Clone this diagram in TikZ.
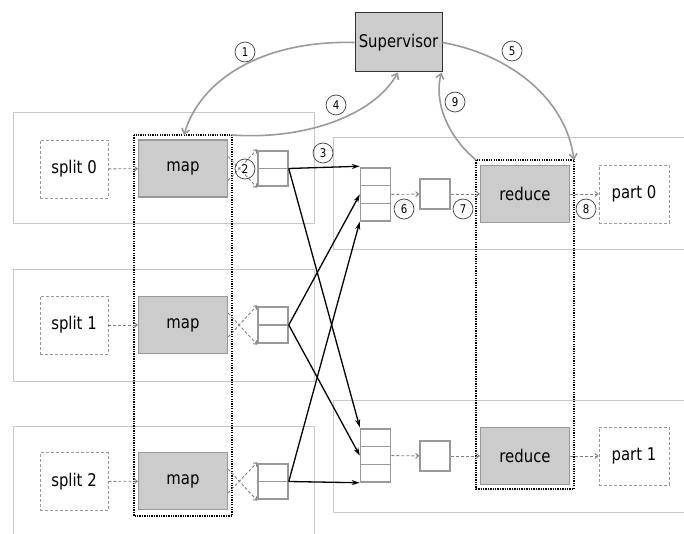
\documentclass[tikz,border=0pt]{standalone}
\usepackage{fontspec}
\setmainfont{DejaVu Sans}[FakeStretch=0.85]
\usetikzlibrary{arrows.meta,calc}
\definecolor{contgray}{HTML}{C8C8C8}
\definecolor{boxgray}{HTML}{999999}
\definecolor{fillgray}{HTML}{CCCCCC}
\definecolor{curvegray}{HTML}{9A9A9A}
\definecolor{dashgray}{HTML}{808080}
\tikzset{
  cont/.style={draw=contgray, line width=1pt},
  graybox/.style={draw=boxgray, fill=fillgray, line width=1.2pt, minimum width=89pt, minimum height=57pt, inner sep=0pt, font=\fontsize{17.5}{20}\selectfont},
  dbox/.style={draw=boxgray, dash pattern=on 3pt off 2pt, line width=0.9pt, minimum width=68pt, minimum height=58pt, inner sep=0pt, font=\fontsize{17.5}{20}\selectfont},
  supbox/.style={draw=black!80, fill=fillgray, line width=1pt, minimum width=87pt, minimum height=59pt, inner sep=0pt, font=\fontsize{17.5}{20}\selectfont},
  buf/.style={draw=boxgray, line width=1.5pt, minimum width=30pt, inner sep=0pt},
  smallbox/.style={draw=boxgray, line width=1.5pt, minimum width=30pt, minimum height=30pt, inner sep=0pt},
  dotbox/.style={draw=black, line width=1.3pt, dash pattern=on 1.3pt off 1.1pt},
  lbl/.style={circle, draw=black!75, line width=0.7pt, minimum size=20pt, inner sep=0pt, font=\fontsize{12}{13}\selectfont},
  darr/.style={draw=dashgray, dash pattern=on 3pt off 2pt, line width=0.9pt, -{Straight Barb[length=3pt,width=5pt]}},
  garr/.style={draw=curvegray, line width=1.6pt, -{Straight Barb[length=5pt,width=8pt]}},
  barr/.style={draw=black, line width=1.3pt, -{Stealth[length=8pt,width=5pt]}}
}
\begin{document}
\begin{tikzpicture}[x=1pt,y=-1pt]
\useasboundingbox (0,0) rectangle (684,534);
\clip (0,0) rectangle (684,534);
% background containers
\draw[cont] (13,113) rectangle (314,224);
\draw[cont] (13,269) rectangle (314,381);
\draw[cont] (13,426) -- (314,426) -- (314,540);
\draw[cont] (13,426) -- (13,540);
\draw[cont] (690,138) -- (333,138) -- (333,250) -- (690,250);
\draw[cont] (690,400) -- (333,400) -- (333,512) -- (690,512);
% dotted groups
\draw[dotbox] (134,135) rectangle (232,516);
\draw[dotbox] (476,160) rectangle (574,489);
% supervisor
\node[supbox] (sup) at (398.5,42.5) {Supervisor};
% splits and maps
\node[dbox] (s0) at (74,169) {split 0};
\node[dbox] (s1) at (74,325) {split 1};
\node[dbox] (s2) at (74,481.5) {split 2};
\node[graybox] (m0) at (183,168.5) {map};
\node[graybox] (m1) at (183,325) {map};
\node[graybox] (m2) at (183,481) {map};
% map buffers
\node[buf, minimum height=35pt] (b0) at (273,168.5) {};
\node[buf, minimum height=36pt] (b1) at (273,325) {};
\node[buf, minimum height=35pt] (b2) at (273,481.5) {};
\foreach \b in {b0,b1,b2} \draw[boxgray, line width=1.5pt] (\b.west) -- (\b.east);
% reducer input buffers
\node[buf, minimum height=53pt] (r0) at (375.5,194.5) {};
\node[buf, minimum height=53pt] (r1) at (375.5,455.5) {};
\foreach \r in {r0,r1} {
  \draw[boxgray, line width=1.5pt] ($(\r.north west)!1/3!(\r.south west)$) -- ($(\r.north east)!1/3!(\r.south east)$);
  \draw[boxgray, line width=1.5pt] ($(\r.north west)!2/3!(\r.south west)$) -- ($(\r.north east)!2/3!(\r.south east)$);
}
\node[smallbox] (k0) at (435,194) {};
\node[smallbox] (k1) at (435,456) {};
\node[graybox] (red0) at (525,194) {reduce};
\node[graybox] (red1) at (525,456) {reduce};
\node[dbox, minimum width=70pt] (p0) at (634,194) {part 0};
\node[dbox, minimum width=70pt] (p1) at (634,456) {part 1};
% dashed arrows
\draw[darr] (s0) -- (m0);
\draw[darr] (s1) -- (m1);
\draw[darr] (s2) -- (m2);
\foreach \m/\b in {m0/b0,m1/b1,m2/b2} {
  \draw[darr] ([yshift=-12pt]\m.east) -- ([yshift=1pt]\b.north west);
  \draw[darr] ([yshift=12pt]\m.east) -- ([yshift=-1pt]\b.south west);
}
\draw[darr] (r0) -- (k0);
\draw[darr] (k0) -- (red0);
\draw[darr] (red0) -- (p0);
\draw[darr] (r1) -- (k1);
\draw[darr] (k1) -- (red1);
\draw[darr] (red1) -- (p1);
% shuffle arrows
\draw[barr] (b0.east) -- ([yshift=1pt]r0.north west);
\draw[barr] (b0.east) -- ([yshift=1pt]r1.north west);
\draw[barr] (b1.east) -- (r0.west);
\draw[barr] (b1.east) -- (r1.west);
\draw[barr] (b2.east) -- (r0.south west);
\draw[barr] (b2.east) -- (r1.south west);
% supervisor arrows
\coordinate (mt) at (184,135);
\coordinate (dmr) at (232,135);
\coordinate (drl) at (476,160);
\coordinate (drr) at (574,160);
\draw[garr] (sup.west) .. controls (262,40) and (200,80) .. (mt);
\draw[garr] (dmr) .. controls (300,140) and (372,118) .. ([xshift=-0.5pt]sup.south);
\draw[garr] (sup.east) .. controls (512,55) and (566,100) .. (drr);
\draw[garr] (drl) .. controls (446,135) and (434,100) .. ([xshift=-1pt]sup.south east);
% labels
\node[lbl] (n1) at (245,52) {1};
\node[lbl] (n2) at (245,169) {2};
\node[lbl] (n3) at (323,153) {3};
\node[lbl] (n4) at (336,105) {4};
\node[lbl] (n5) at (512,51) {5};
\node[lbl] (n6) at (404,209) {6};
\node[lbl] (n7) at (463,209) {7};
\node[lbl] (n8) at (586,209) {8};
\node[lbl] (n9) at (455,102) {9};
\end{tikzpicture}
\end{document}
